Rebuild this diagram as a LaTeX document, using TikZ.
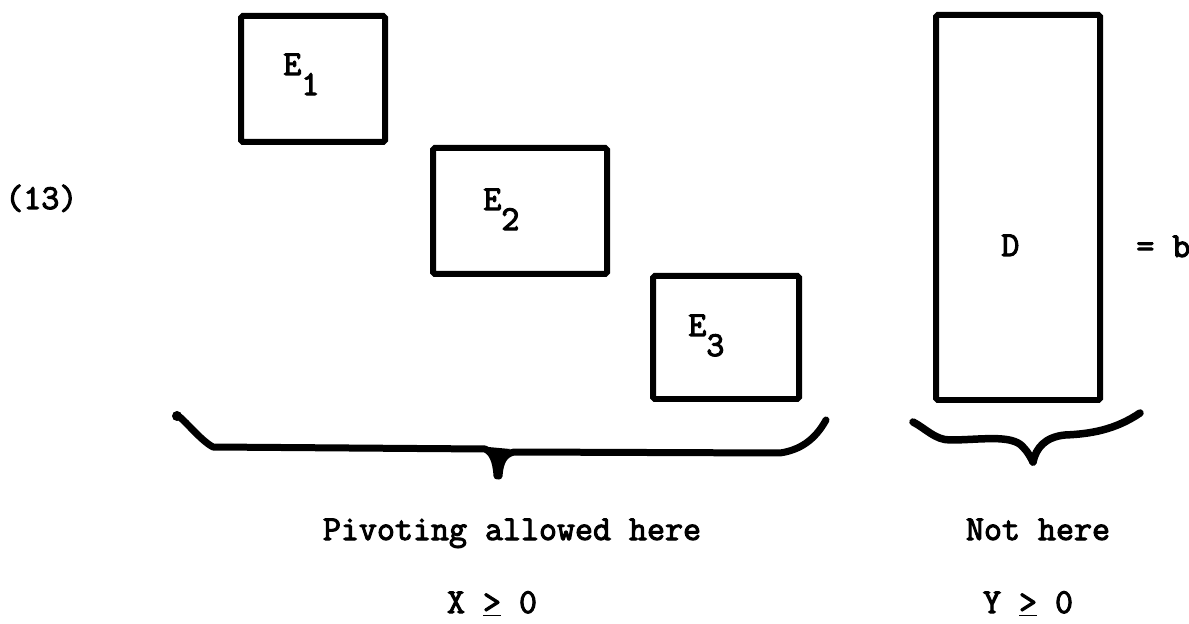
\documentclass[tikz,border=0pt]{standalone}
\usepackage{fontspec}
\newfontfamily\twfont{Latin Modern Mono}[FakeBold=3]
\usetikzlibrary{fit}
\tikzset{
  box/.style={draw=black, line width=0.12cm, inner sep=0pt, rounded corners=1pt},
  lbl/.style={inner sep=0pt, font=\fontsize{19.9}{22}\twfont, text=black},
  brace/.style={draw=black, line width=0.14cm, line cap=round, line join=round},
}
\newcommand{\sbx}[1]{\raisebox{-11.4pt}{#1}}
\begin{document}
\begin{tikzpicture}[x=0.02cm, y=-0.02cm]
\useasboundingbox[fill=white] (0,0) rectangle (1189,624);
% boxes
\node[box, fit={(241,16) (385,142)}] (E1) {};
\node[box, fit={(433,148) (607,274)}] (E2) {};
\node[box, fit={(653,276) (799,399)}] (E3) {};
\node[box, fit={(936,15) (1100,400)}] (D) {};
% labels
\node[lbl, anchor=base west] (lE1) at (283,75) {E\sbx{1}};
\node[lbl, anchor=base west] (lE2) at (483,210) {E\sbx{2}};
\node[lbl, anchor=base west] (lE3) at (688,336) {E\sbx{3}};
\node[lbl, anchor=base west] (lD) at (1001,256) {D};
\node[lbl, anchor=base west] (eqb) at (1136,257) {= b};
\node[lbl, anchor=base west] (num) at (5,209) {(13)};
% big brace
\fill[black] (177,416) circle (5);
\draw[brace] (177,415) .. controls (185,420) and (200,440) .. (213,447) -- (485,449) .. controls (492,452) and (496,460) .. (497,476);
\draw[brace] (499,476) .. controls (500,462) and (504,454) .. (514,452) -- (780,453) .. controls (800,450) and (815,440) .. (826,420);
\fill[black] (488,447) -- (510,449) .. controls (503,455) and (501,466) .. (499,480) .. controls (497,466) and (495,455) .. cycle;
% small brace
\draw[brace, line width=0.15cm] (913,422) .. controls (925,428) and (935,440) .. (950,440) .. controls (980,440) and (1012,434) .. (1023,447) .. controls (1028,452) and (1031,458) .. (1033,462);
\draw[brace, line width=0.15cm] (1033,462) .. controls (1036,448) and (1045,437) .. (1065,435) .. controls (1090,434) and (1115,430) .. (1140,413);
% bottom texts
\node[lbl, anchor=base] (piv) at (512,540) {Pivoting allowed here};
\node[lbl, anchor=base] (not) at (1038,540) {Not here};
\node[lbl, anchor=base] (xg) at (492,613) {X \underline{>} 0};
\node[lbl, anchor=base] (yg) at (1028,613) {Y \underline{>} 0};
\end{tikzpicture}
\end{document}
